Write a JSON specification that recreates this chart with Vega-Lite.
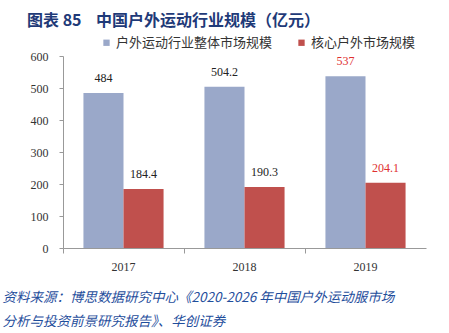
{
  "$schema": "https://vega.github.io/schema/vega-lite/v6.json",
  "width": 363,
  "height": 192,
  "autosize": {"type": "none"},
  "padding": {"left": 63, "top": 56, "right": 23, "bottom": 85},
  "background": "white",
  "title": {
    "text": "图表 85\u00a0\u00a0\u00a0\u00a0中国户外运动行业规模（亿元）",
    "anchor": "start",
    "frame": "group",
    "dx": -36,
    "offset": 7,
    "font": "Noto Sans CJK SC",
    "fontSize": 16,
    "fontWeight": "bold",
    "color": "#1f3a78"
  },
  "data": {
    "values": [
      {"year": "2017", "series": "户外运动行业整体市场规模", "value": 484, "label": "484"},
      {"year": "2017", "series": "核心户外市场规模", "value": 184.4, "label": "184.4"},
      {"year": "2018", "series": "户外运动行业整体市场规模", "value": 504.2, "label": "504.2"},
      {"year": "2018", "series": "核心户外市场规模", "value": 190.3, "label": "190.3"},
      {"year": "2019", "series": "户外运动行业整体市场规模", "value": 537, "label": "537"},
      {"year": "2019", "series": "核心户外市场规模", "value": 204.1, "label": "204.1"}
    ]
  },
  "encoding": {
    "x": {
      "field": "year",
      "type": "nominal",
      "scale": {"paddingInner": 0, "paddingOuter": 0},
      "axis": {
        "labelAngle": 0,
        "labelFont": "Liberation Serif",
        "labelFontSize": 12,
        "labelColor": "#333333",
        "labelPadding": 8,
        "tickSize": 5,
        "bandPosition": 0,
        "domainColor": "#999999",
        "tickColor": "#999999",
        "title": ["资料来源：博思数据研究中心《2020-2026 年中国户外运动服市场", "分析与投资前景研究报告》、华创证券"],
        "titleFont": "Noto Sans CJK SC",
        "titleFontStyle": "italic",
        "titleFontWeight": "normal",
        "titleFontSize": 13.5,
        "titleColor": "#1f4e9c",
        "titleAnchor": "start",
        "titleAlign": "left",
        "titleX": -61,
        "titleY": 42,
        "titleBaseline": "top",
        "titleLineHeight": 24
      }
    },
    "xOffset": {
      "field": "series",
      "type": "nominal",
      "sort": ["户外运动行业整体市场规模", "核心户外市场规模"],
      "scale": {"paddingInner": 0, "paddingOuter": 0.51}
    },
    "y": {
      "field": "value",
      "type": "quantitative",
      "scale": {"domain": [0, 600]},
      "axis": {
        "title": null,
        "values": [-118.75, 0, 100, 200, 300, 400, 500, 600, 671.875],
        "labelExpr": "datum.value > 600 || datum.value < 0 ? '' : datum.label",
        "grid": true,
        "gridWidth": 2,
        "gridColor": {"condition": {"test": "datum.value > 600 || datum.value < 0", "value": "#24508f"}, "value": "transparent"},
        "labelFont": "Liberation Serif",
        "labelFontSize": 12,
        "labelColor": "#333333",
        "labelPadding": 11,
        "tickSize": 4,
        "domainColor": "#999999",
        "tickColor": {"condition": {"test": "datum.value > 600 || datum.value < 0", "value": "transparent"}, "value": "#999999"}
      }
    }
  },
  "layer": [
    {
      "mark": {"type": "bar"},
      "encoding": {
        "color": {
          "field": "series",
          "type": "nominal",
          "scale": {"domain": ["户外运动行业整体市场规模", "核心户外市场规模"], "range": ["#9aa8c9", "#c0504d"]},
          "legend": {
            "orient": "none",
            "legendX": 37,
            "legendY": -20,
            "direction": "horizontal",
            "title": null,
            "symbolType": "square",
            "symbolSize": 40,
            "symbolStrokeWidth": 0,
            "labelFont": "Noto Sans CJK SC",
            "labelFontSize": 13,
            "labelColor": "#333333",
            "labelOffset": 3,
            "columnPadding": 22
          }
        }
      }
    },
    {
      "mark": {"type": "text", "baseline": "bottom", "dy": -8, "font": "Liberation Serif", "fontSize": 12},
      "encoding": {
        "text": {"field": "label"},
        "color": {
          "condition": {"test": "datum.year === '2019'", "value": "#e0302f"},
          "value": "#222222"
        }
      }
    }
  ],
  "config": {"view": {"stroke": null}}
}
